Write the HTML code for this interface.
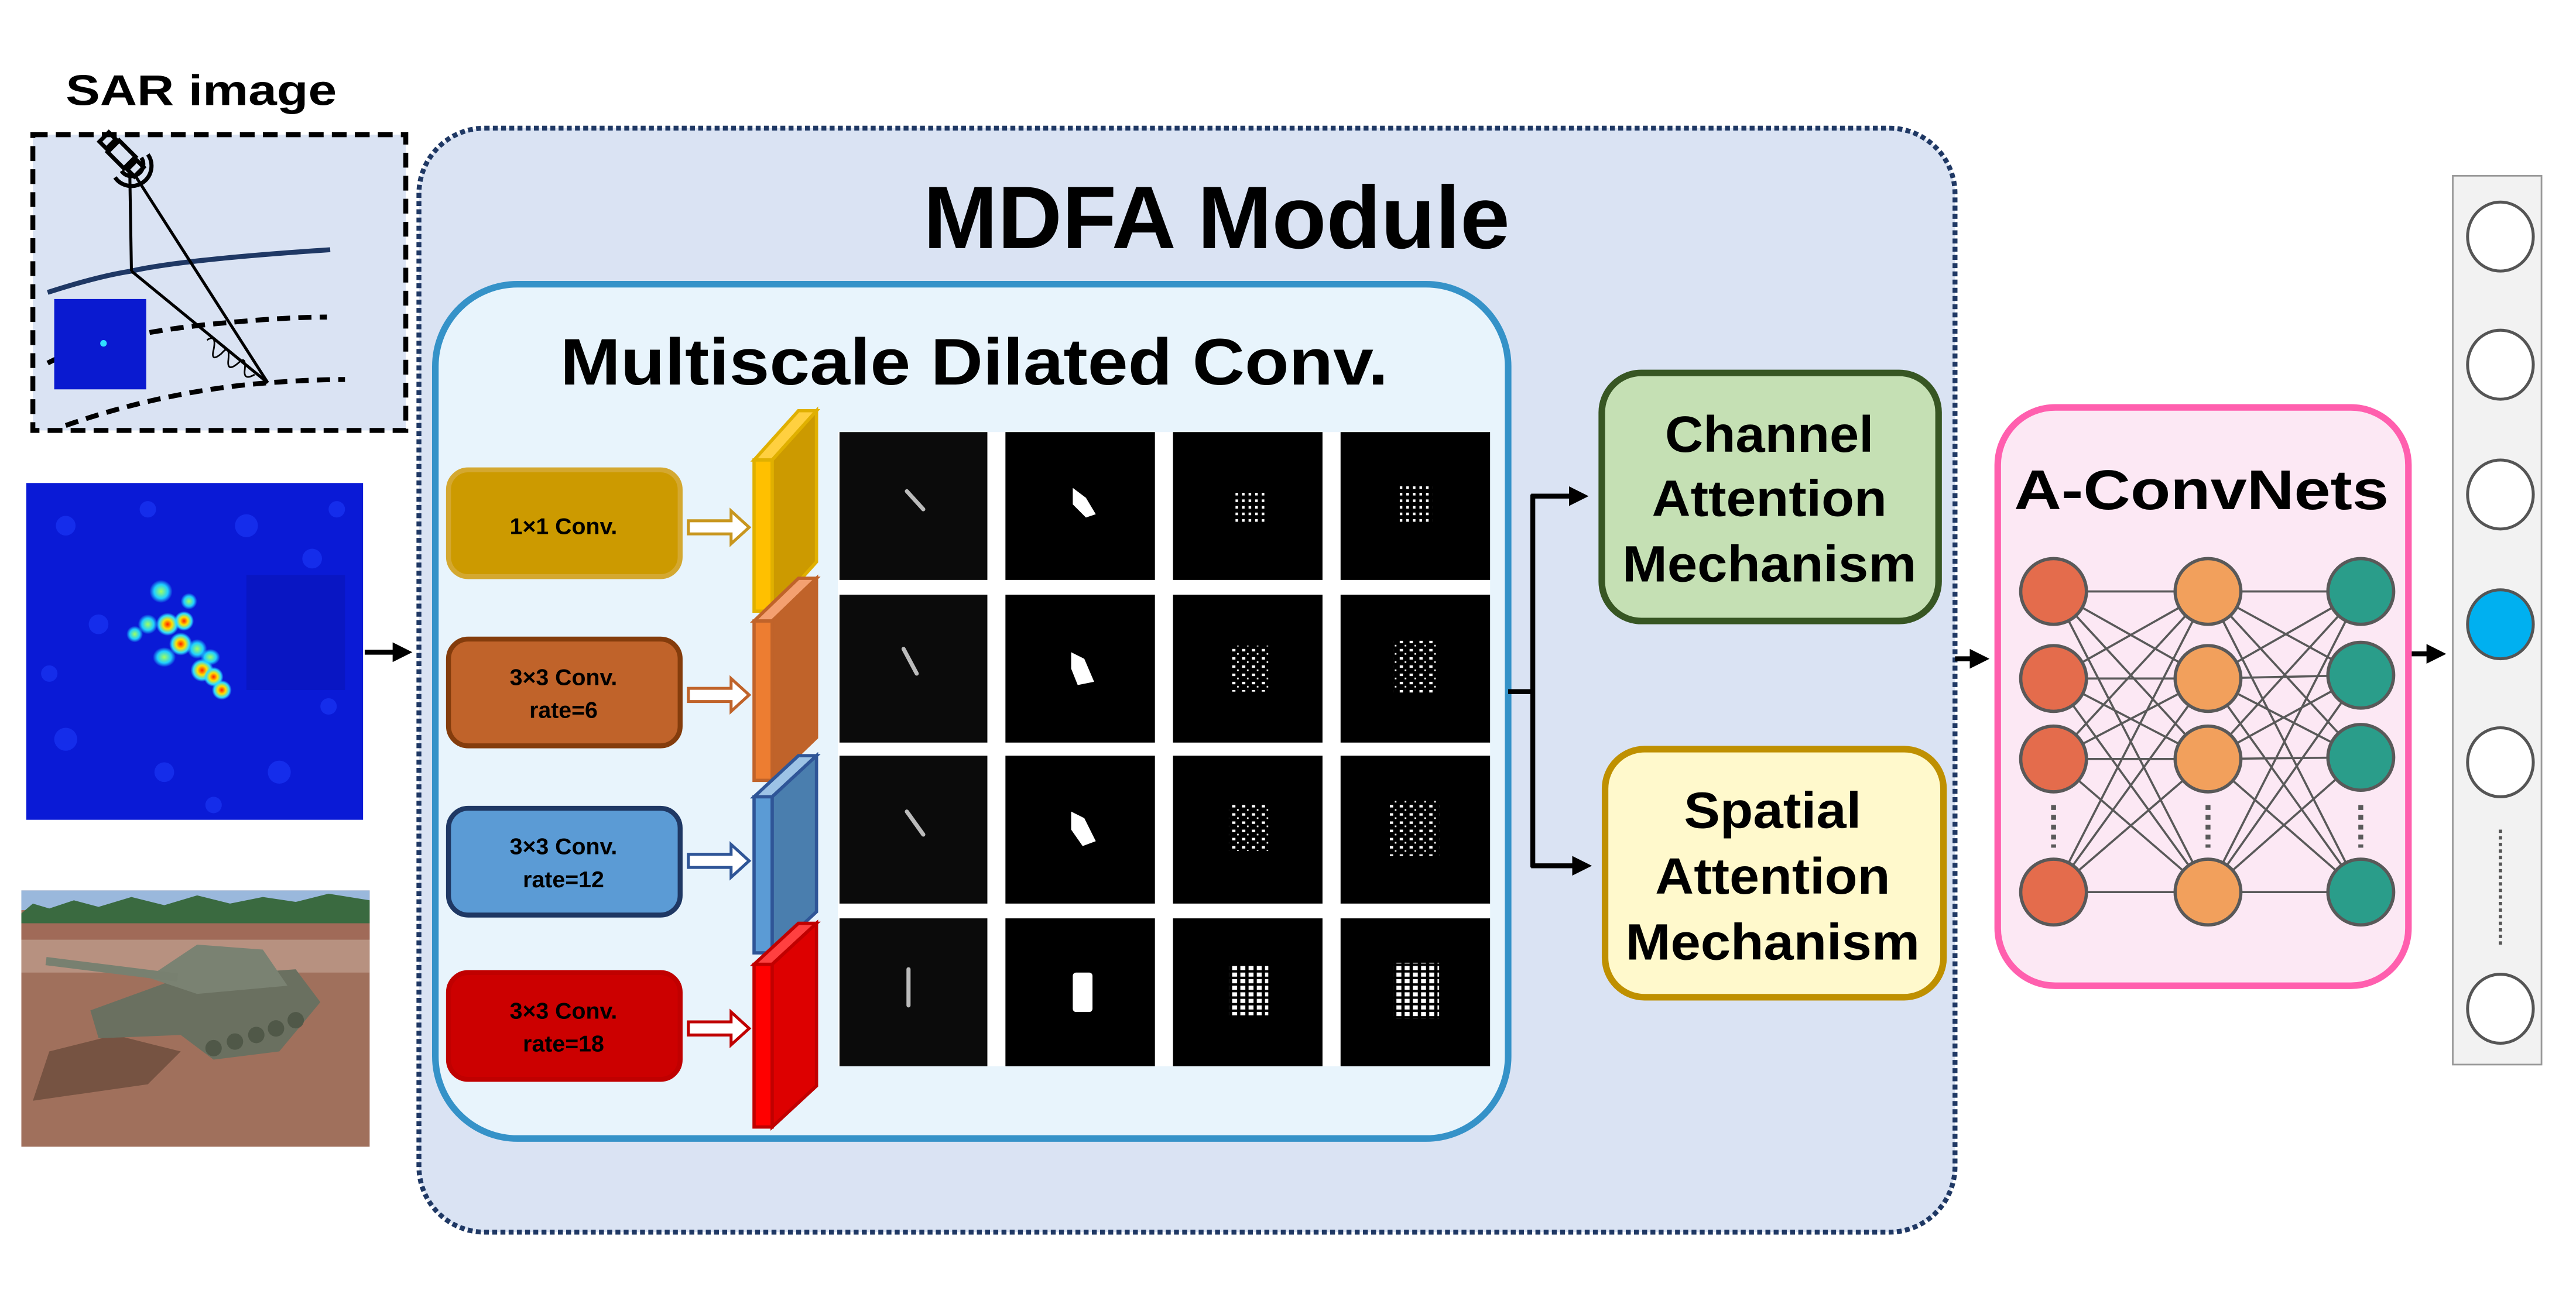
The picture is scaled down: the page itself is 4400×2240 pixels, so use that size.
<!DOCTYPE html>
<html><head><meta charset="utf-8"><style>
html,body{margin:0;padding:0;background:#fff;}
svg{display:block;}
text{font-family:"Liberation Sans",Arial,sans-serif;font-weight:bold;fill:#000;}
</style></head><body>
<svg width="4400" height="2240" viewBox="0 0 1568 798" preserveAspectRatio="none" xmlns="http://www.w3.org/2000/svg">
<defs>
<radialGradient id="hot" cx="50%" cy="50%" r="50%"><stop offset="0" stop-color="#ff2000"/><stop offset="0.4" stop-color="#ffe000"/><stop offset="0.75" stop-color="#30e0ff"/><stop offset="1" stop-color="#30e0ff" stop-opacity="0"/></radialGradient>
<radialGradient id="cy" cx="50%" cy="50%" r="50%"><stop offset="0" stop-color="#a0ff60"/><stop offset="0.6" stop-color="#20d0ff"/><stop offset="1" stop-color="#20d0ff" stop-opacity="0"/></radialGradient>
<pattern id="d1" width="4" height="4" patternUnits="userSpaceOnUse"><rect x="0" y="0" width="1.6" height="1.6" fill="#fff"/></pattern>
<pattern id="d2" width="6" height="5" patternUnits="userSpaceOnUse"><rect x="0" y="0" width="2" height="1.5" fill="#fff"/><rect x="3" y="2.5" width="1" height="1" fill="#fff"/></pattern>
<pattern id="d3" width="5" height="4" patternUnits="userSpaceOnUse"><rect x="0" y="0" width="3" height="2.5" fill="#fff"/></pattern>
<marker id="ah" markerWidth="4" markerHeight="4" refX="3" refY="2" orient="auto" markerUnits="strokeWidth"><path d="M0,0 L4,2 L0,4 z" fill="#000"/></marker>
</defs>

<text x="40" y="64" font-size="26" textLength="165" lengthAdjust="spacingAndGlyphs">SAR  image</text>
<rect x="20" y="82" width="227" height="180" fill="#dae3f3" stroke="#000" stroke-width="3" stroke-dasharray="9,5"/>
<path d="M29,178 Q60,168 80,165 Q110,158 201,152" fill="none" stroke="#1f3864" stroke-width="3"/>
<path d="M29,221 Q60,205 122,198 Q170,193 199,193" fill="none" stroke="#000" stroke-width="3" stroke-dasharray="8,5"/>
<path d="M40,259 Q100,238 163,233 Q190,231 210,231" fill="none" stroke="#000" stroke-width="3" stroke-dasharray="8,5"/>
<line x1="79" y1="105" x2="80" y2="165" stroke="#000" stroke-width="1.8"/>
<line x1="83" y1="108" x2="163" y2="233" stroke="#000" stroke-width="1.8"/>
<line x1="80" y1="165" x2="163" y2="233" stroke="#000" stroke-width="1.8"/>
<path d="M126,207 q6,-4 4,6 q-2,8 5,2 q5,-6 4,4 q-1,8 6,2 q5,-5 4,4 q-1,7 6,3" fill="none" stroke="#000" stroke-width="1"/>
<g transform="translate(74,94) rotate(-45)" fill="none" stroke="#000" stroke-width="2.5">
<rect x="-5" y="-7" width="10" height="14"/><rect x="-4" y="-15" width="8" height="6"/><rect x="-4" y="9" width="8" height="6"/>
</g>
<path d="M70,108 A12,12 0 0 0 90,94" fill="none" stroke="#000" stroke-width="2.5"/>
<path d="M74,104 A7,7 0 0 0 86,96" fill="none" stroke="#000" stroke-width="2.5"/>
<rect x="33" y="182" width="56" height="55" fill="#0a1ad0"/>
<circle cx="63" cy="209" r="2" fill="#30e0ff"/>

<rect x="16" y="294" width="205" height="205" fill="#0a1ad6"/>
<g opacity="0.5" fill="#2040ff">
<circle cx="40" cy="320" r="6"/><circle cx="90" cy="310" r="5"/><circle cx="150" cy="320" r="7"/><circle cx="190" cy="340" r="6"/><circle cx="60" cy="380" r="6"/><circle cx="40" cy="450" r="7"/><circle cx="100" cy="470" r="6"/><circle cx="170" cy="470" r="7"/><circle cx="200" cy="430" r="5"/><circle cx="130" cy="490" r="5"/><circle cx="30" cy="410" r="5"/><circle cx="205" cy="310" r="5"/>
</g>
<rect x="150" y="350" width="60" height="70" fill="#0812b0" opacity="0.5"/>
<g>
<ellipse cx="98" cy="360" rx="7" ry="7" fill="url(#cy)"/><ellipse cx="90" cy="380" rx="6" ry="6" fill="url(#cy)"/>
<ellipse cx="102" cy="380" rx="7" ry="7" fill="url(#hot)"/><ellipse cx="112" cy="378" rx="6" ry="6" fill="url(#hot)"/>
<ellipse cx="110" cy="392" rx="7" ry="7" fill="url(#hot)"/><ellipse cx="100" cy="400" rx="7" ry="6" fill="url(#cy)"/>
<ellipse cx="120" cy="395" rx="6" ry="6" fill="url(#cy)"/><ellipse cx="123" cy="408" rx="7" ry="7" fill="url(#hot)"/>
<ellipse cx="130" cy="412" rx="6" ry="6" fill="url(#hot)"/><ellipse cx="135" cy="420" rx="6" ry="6" fill="url(#hot)"/>
<ellipse cx="128" cy="400" rx="6" ry="5" fill="url(#cy)"/><ellipse cx="115" cy="366" rx="5" ry="5" fill="url(#cy)"/>
<ellipse cx="82" cy="386" rx="5" ry="5" fill="url(#cy)"/>
</g>
<line x1="222" y1="397" x2="248" y2="397" stroke="#000" stroke-width="3" marker-end="url(#ah)"/>

<rect x="13" y="542" width="212" height="156" fill="#a0705c"/>
<rect x="13" y="542" width="212" height="12" fill="#9ab8dc"/>
<path d="M13,556 L20,550 L30,553 L45,548 L60,552 L80,546 L100,551 L120,545 L140,550 L160,546 L180,549 L200,544 L225,548 L225,562 L13,562 z" fill="#3a6a40"/>
<rect x="13" y="562" width="212" height="10" fill="#a06a58"/>
<rect x="13" y="572" width="212" height="20" fill="#c0a090" opacity="0.7"/>
<path d="M30,640 L70,630 L110,640 L90,660 L20,670 z" fill="#5a4030" opacity="0.6"/>
<path d="M55,615 L110,595 L180,590 L195,610 L170,640 L130,645 L110,630 L60,632 z" fill="#6a7060"/>
<path d="M90,595 L120,575 L160,578 L175,600 L120,605 z" fill="#7a8272"/>
<line x1="28" y1="585" x2="108" y2="595" stroke="#788070" stroke-width="5"/>
<g fill="#505848"><circle cx="130" cy="638" r="5"/><circle cx="143" cy="634" r="5"/><circle cx="156" cy="630" r="5"/><circle cx="168" cy="626" r="5"/><circle cx="180" cy="621" r="5"/></g>

<rect x="255" y="78" width="935" height="672" rx="40" fill="#dae3f3" stroke="#1f3864" stroke-width="3" stroke-dasharray="3,2"/>
<text x="562" y="151" font-size="54" textLength="357" lengthAdjust="spacingAndGlyphs">MDFA Module</text>

<rect x="265" y="173" width="653" height="520" rx="50" fill="#e8f4fc" stroke="#3592c8" stroke-width="4"/>
<text x="341" y="234" font-size="40" textLength="504" lengthAdjust="spacingAndGlyphs">Multiscale Dilated Conv.</text>

<rect x="273" y="286" width="141" height="65" rx="12" fill="#cc9a00" stroke="#d4a830" stroke-width="3"/>
<text x="343" y="325" font-size="14" text-anchor="middle">1×1 Conv.</text>
<rect x="273" y="389" width="141" height="65" rx="12" fill="#c0632a" stroke="#843c0c" stroke-width="3"/>
<text x="343" y="417" font-size="14" text-anchor="middle">3×3 Conv.</text><text x="343" y="437" font-size="14" text-anchor="middle">rate=6</text>
<rect x="273" y="492" width="141" height="65" rx="12" fill="#5b9bd5" stroke="#1f3864" stroke-width="3"/>
<text x="343" y="520" font-size="14" text-anchor="middle">3×3 Conv.</text><text x="343" y="540" font-size="14" text-anchor="middle">rate=12</text>
<rect x="273" y="592" width="141" height="65" rx="12" fill="#cc0000" stroke="#c00000" stroke-width="3"/>
<text x="343" y="620" font-size="14" text-anchor="middle">3×3 Conv.</text><text x="343" y="640" font-size="14" text-anchor="middle">rate=18</text>

<path d="M419,317 h26 v-6 l11,10 l-11,10 v-6 h-26 z" fill="#fff" stroke="#c8961e" stroke-width="1.8"/>
<path d="M419,419 h26 v-6 l11,10 l-11,10 v-6 h-26 z" fill="#fff" stroke="#c0632a" stroke-width="1.8"/>
<path d="M419,520 h26 v-6 l11,10 l-11,10 v-6 h-26 z" fill="#fff" stroke="#2f5597" stroke-width="1.8"/>
<path d="M419,622 h26 v-6 l11,10 l-11,10 v-6 h-26 z" fill="#fff" stroke="#c00000" stroke-width="1.8"/>

<g stroke-width="2">
<path d="M459,280 L486,250 L497,250 L470,280 z" fill="#ffd040" stroke="#e0b000"/>
<path d="M470,280 L497,250 L497,342 L470,372 z" fill="#cc9a00" stroke="#e0b000"/>
<rect x="459" y="280" width="11" height="92" fill="#ffc000" stroke="#e0b000"/>
<path d="M459,378 L486,352 L497,352 L470,378 z" fill="#f4a070" stroke="#c0632a"/>
<path d="M470,378 L497,352 L497,449 L470,475 z" fill="#c0632a" stroke="#c0632a"/>
<rect x="459" y="378" width="11" height="97" fill="#ed7d31" stroke="#c0632a"/>
<path d="M459,485 L486,460 L497,460 L470,485 z" fill="#9dc3e6" stroke="#2f5597"/>
<path d="M470,485 L497,460 L497,555 L470,580 z" fill="#4a7eae" stroke="#2f5597"/>
<rect x="459" y="485" width="11" height="95" fill="#5b9bd5" stroke="#2f5597"/>
<path d="M459,587 L486,562 L497,562 L470,587 z" fill="#ff4040" stroke="#c00000"/>
<path d="M470,587 L497,562 L497,661 L470,686 z" fill="#dd0000" stroke="#c00000"/>
<rect x="459" y="587" width="11" height="99" fill="#ff0000" stroke="#c00000"/>
</g>

<rect x="510" y="263" width="397" height="386" fill="#fff"/>
<g fill="#000">
<rect x="511" y="263" width="90" height="90" fill="#0b0b0b"/><rect x="612" y="263" width="91" height="90"/><rect x="714" y="263" width="91" height="90"/><rect x="816" y="263" width="91" height="90"/>
<rect x="511" y="362" width="90" height="90" fill="#0b0b0b"/><rect x="612" y="362" width="91" height="90"/><rect x="714" y="362" width="91" height="90"/><rect x="816" y="362" width="91" height="90"/>
<rect x="511" y="460" width="90" height="90" fill="#0b0b0b"/><rect x="612" y="460" width="91" height="90"/><rect x="714" y="460" width="91" height="90"/><rect x="816" y="460" width="91" height="90"/>
<rect x="511" y="559" width="90" height="90" fill="#0b0b0b"/><rect x="612" y="559" width="91" height="90"/><rect x="714" y="559" width="91" height="90"/><rect x="816" y="559" width="91" height="90"/>
</g>
<g stroke="#bbb" stroke-width="2.5" stroke-linecap="round" fill="none">
<line x1="552" y1="299" x2="562" y2="310"/><line x1="550" y1="395" x2="558" y2="410"/><line x1="552" y1="494" x2="562" y2="508"/><line x1="553" y1="590" x2="553" y2="612"/>
</g>
<g fill="#fff">
<path d="M653,297 l8,6 l6,10 l-6,2 l-8,-8 z"/>
<path d="M652,397 l8,4 l6,14 l-10,2 l-4,-10 z"/>
<path d="M652,494 l8,4 l7,14 l-8,3 l-7,-10 z"/>
<rect x="653" y="592" width="12" height="24" rx="2"/>
</g>
<rect x="752" y="298" width="18" height="20" fill="url(#d1)"/>
<rect x="750" y="393" width="22" height="28" fill="url(#d2)"/>
<rect x="748" y="490" width="24" height="28" fill="url(#d2)"/>
<rect x="748" y="588" width="24" height="30" fill="url(#d3)"/>
<rect x="852" y="296" width="20" height="22" fill="url(#d1)"/>
<rect x="848" y="390" width="26" height="32" fill="url(#d2)"/>
<rect x="846" y="487" width="30" height="34" fill="url(#d2)"/>
<rect x="848" y="586" width="28" height="34" fill="url(#d3)"/>

<g stroke="#000" stroke-width="3" fill="none">
<line x1="918" y1="421" x2="934" y2="421"/>
<line x1="933" y1="301" x2="933" y2="528"/>
<line x1="932" y1="302" x2="964" y2="302" marker-end="url(#ah)"/>
<line x1="932" y1="527" x2="966" y2="527" marker-end="url(#ah)"/>
</g>

<rect x="975" y="227" width="205" height="151" rx="24" fill="#c5e0b4" stroke="#375623" stroke-width="4"/>
<text x="1077" y="275" font-size="31" text-anchor="middle" textLength="127" lengthAdjust="spacingAndGlyphs">Channel</text>
<text x="1077" y="314" font-size="31" text-anchor="middle" textLength="143" lengthAdjust="spacingAndGlyphs">Attention</text>
<text x="1077" y="354" font-size="31" text-anchor="middle" textLength="179" lengthAdjust="spacingAndGlyphs">Mechanism</text>
<rect x="977" y="456" width="206" height="151" rx="24" fill="#fff9cc" stroke="#bf9000" stroke-width="4"/>
<text x="1079" y="504" font-size="31" text-anchor="middle" textLength="108" lengthAdjust="spacingAndGlyphs">Spatial</text>
<text x="1079" y="544" font-size="31" text-anchor="middle" textLength="143" lengthAdjust="spacingAndGlyphs">Attention</text>
<text x="1079" y="584" font-size="31" text-anchor="middle" textLength="179" lengthAdjust="spacingAndGlyphs">Mechanism</text>

<line x1="1190" y1="401" x2="1208" y2="401" stroke="#000" stroke-width="3" marker-end="url(#ah)"/>

<rect x="1216" y="248" width="250" height="352" rx="35" fill="#fce8f4" stroke="#ff5fae" stroke-width="4"/>
<text x="1340" y="310" font-size="34" text-anchor="middle" textLength="228" lengthAdjust="spacingAndGlyphs">A-ConvNets</text>
<g stroke="#595959" stroke-width="1.3">
<line x1="1250" y1="360" x2="1344" y2="360"/><line x1="1250" y1="360" x2="1344" y2="413"/><line x1="1250" y1="360" x2="1344" y2="462"/><line x1="1250" y1="360" x2="1344" y2="543"/>
<line x1="1250" y1="413" x2="1344" y2="360"/><line x1="1250" y1="413" x2="1344" y2="413"/><line x1="1250" y1="413" x2="1344" y2="462"/><line x1="1250" y1="413" x2="1344" y2="543"/>
<line x1="1250" y1="462" x2="1344" y2="360"/><line x1="1250" y1="462" x2="1344" y2="413"/><line x1="1250" y1="462" x2="1344" y2="462"/><line x1="1250" y1="462" x2="1344" y2="543"/>
<line x1="1250" y1="543" x2="1344" y2="360"/><line x1="1250" y1="543" x2="1344" y2="413"/><line x1="1250" y1="543" x2="1344" y2="462"/><line x1="1250" y1="543" x2="1344" y2="543"/>
<line x1="1344" y1="360" x2="1437" y2="360"/><line x1="1344" y1="360" x2="1437" y2="411"/><line x1="1344" y1="360" x2="1437" y2="461"/><line x1="1344" y1="360" x2="1437" y2="543"/>
<line x1="1344" y1="413" x2="1437" y2="360"/><line x1="1344" y1="413" x2="1437" y2="411"/><line x1="1344" y1="413" x2="1437" y2="461"/><line x1="1344" y1="413" x2="1437" y2="543"/>
<line x1="1344" y1="462" x2="1437" y2="360"/><line x1="1344" y1="462" x2="1437" y2="411"/><line x1="1344" y1="462" x2="1437" y2="461"/><line x1="1344" y1="462" x2="1437" y2="543"/>
<line x1="1344" y1="543" x2="1437" y2="360"/><line x1="1344" y1="543" x2="1437" y2="411"/><line x1="1344" y1="543" x2="1437" y2="461"/><line x1="1344" y1="543" x2="1437" y2="543"/>
</g>
<g stroke="#595959" stroke-width="2">
<ellipse cx="1250" cy="360" rx="20" ry="20" fill="#e46c4c"/><ellipse cx="1250" cy="413" rx="20" ry="20" fill="#e46c4c"/><ellipse cx="1250" cy="462" rx="20" ry="20" fill="#e46c4c"/><ellipse cx="1250" cy="543" rx="20" ry="20" fill="#e46c4c"/>
<ellipse cx="1344" cy="360" rx="20" ry="20" fill="#f2a05c"/><ellipse cx="1344" cy="413" rx="20" ry="20" fill="#f2a05c"/><ellipse cx="1344" cy="462" rx="20" ry="20" fill="#f2a05c"/><ellipse cx="1344" cy="543" rx="20" ry="20" fill="#f2a05c"/>
<ellipse cx="1437" cy="360" rx="20" ry="20" fill="#2a9d8a"/><ellipse cx="1437" cy="411" rx="20" ry="20" fill="#2a9d8a"/><ellipse cx="1437" cy="461" rx="20" ry="20" fill="#2a9d8a"/><ellipse cx="1437" cy="543" rx="20" ry="20" fill="#2a9d8a"/>
</g>
<g stroke="#595959" stroke-width="3" stroke-dasharray="3,3">
<line x1="1250" y1="490" x2="1250" y2="516"/><line x1="1344" y1="490" x2="1344" y2="516"/><line x1="1437" y1="490" x2="1437" y2="516"/>
</g>

<line x1="1468" y1="398" x2="1486" y2="398" stroke="#000" stroke-width="3" marker-end="url(#ah)"/>

<rect x="1493" y="107" width="54" height="541" fill="#f2f2f2" stroke="#999" stroke-width="1"/>
<g stroke="#555" stroke-width="1.8" fill="#fff">
<ellipse cx="1522" cy="144" rx="20" ry="21"/><ellipse cx="1522" cy="222" rx="20" ry="21"/><ellipse cx="1522" cy="301" rx="20" ry="21"/>
<ellipse cx="1522" cy="380" rx="20" ry="21" fill="#00b0f0"/><ellipse cx="1522" cy="464" rx="20" ry="21"/><ellipse cx="1522" cy="614" rx="20" ry="21"/>
</g>
<line x1="1522" y1="505" x2="1522" y2="575" stroke="#555" stroke-width="2" stroke-dasharray="2,2"/>
</svg>
</body></html>
